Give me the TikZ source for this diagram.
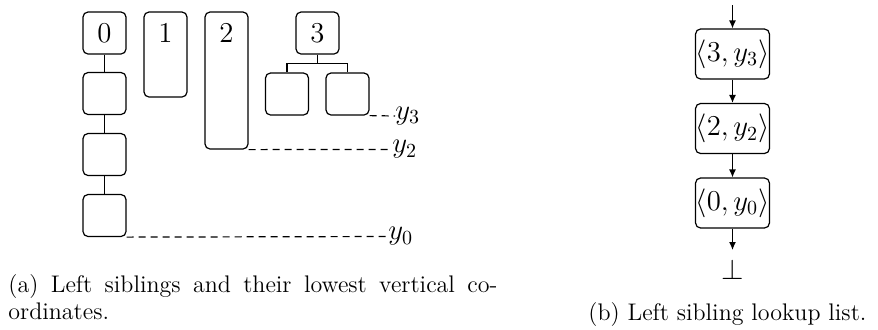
\documentclass[tikz,border=0pt]{standalone}
\usetikzlibrary{arrows.meta}
\begin{document}
\begin{tikzpicture}[x=0.5pt,y=-0.5pt,
  box/.style={draw, rounded corners=2.5pt, line width=0.6pt, inner sep=0pt,
    minimum width=21.5pt, minimum height=21pt, font=\fontsize{14.4}{17}\selectfont},
  numtxt/.style={inner sep=0pt, font=\fontsize{14.4}{17}\selectfont},
  lbl/.style={numtxt, anchor=west},
  lst/.style={box, minimum width=36.5pt, minimum height=25pt},
  dsh/.style={line width=0.6pt, dash pattern=on 3.5pt off 2.5pt},
  conn/.style={line width=0.6pt},
  arr/.style={line width=0.6pt, -{Latex[length=4pt,width=3.5pt]}},
  captxt/.style={font=\fontsize{12}{14}\selectfont, inner sep=0pt, anchor=base west}]
\useasboundingbox (0,0) rectangle (878,329);
% (a)
\node[box] (b0) at (104.5,33) {0};
\node[box] (b0a) at (104.5,93.5) {};
\node[box] (b0b) at (104.5,154.5) {};
\node[box] (b0c) at (104.5,215.5) {};
\draw[conn] (b0) -- (b0a);
\draw[conn] (b0a) -- (b0b);
\draw[conn] (b0b) -- (b0c);
\node[box, minimum height=42.5pt] (b1) at (165.5,54.5) {};
\node[numtxt] (t1) at (165.5,33) {1};
\node[box, minimum height=68.5pt] (b2) at (226.5,80.5) {};
\node[numtxt] (t2) at (226.5,33) {2};
\node[box] (b3) at (317.5,33) {3};
\node[box] (c1) at (287,94) {};
\node[box] (c2) at (347.5,94) {};
\draw[conn] (b3.south) -- ++(0,9) -| (c1.north);
\draw[conn] (b3.south) -- ++(0,9) -| (c2.north);
\node[lbl] (y3) at (395,116) {$y_3$};
\draw[dsh] (c2.south east) -- (y3.west);
\node[lbl] (y2) at (392,149.5) {$y_2$};
\draw[dsh] (b2.south east) -- (y2.west);
\node[lbl] (y0) at (388,236.5) {$y_0$};
\draw[dsh] (b0c.south east) -- (y0.west);
% (b)
\coordinate (top) at (732.5,5);
\node[lst] (l3) at (732.5,54) {$\langle 3, y_3\rangle$};
\node[lst] (l2) at (732.5,128.5) {$\langle 2, y_2\rangle$};
\node[lst] (l0) at (732.5,203) {$\langle 0, y_0\rangle$};
\coordinate (bot) at (732.5,250);
\node[numtxt] (nil) at (732.5,269) {$\bot$};
\draw[arr] (top) -- (l3);
\draw[arr] (l3) -- (l2);
\draw[arr] (l2) -- (l0);
\draw[arr] (l0) -- (bot);
% captions
\node[captxt] (capa) at (8,292) {\makebox[244.5pt][s]{(a) Left siblings and their lowest vertical co-}};
\node[captxt] (capa2) at (8,319) {ordinates.};
\node[captxt] (capb) at (588,320) {(b) Left sibling lookup list.};
\end{tikzpicture}
\end{document}
